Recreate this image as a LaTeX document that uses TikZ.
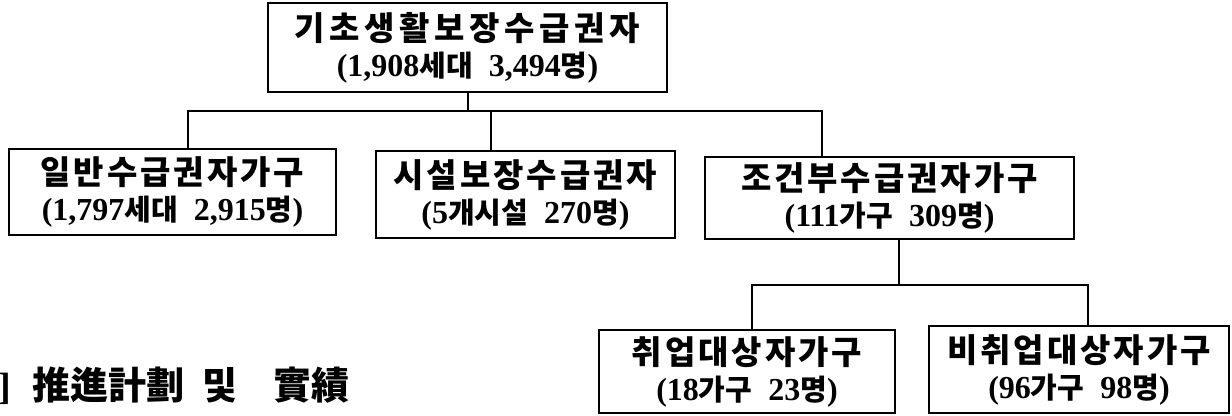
\documentclass[tikz,border=0pt]{standalone}
\usepackage{fontspec}
\setmainfont{Liberation Serif}
\newfontfamily\kr{Noto Sans CJK KR}
\newcommand{\hd}[1]{{\kr\fontsize{16.5}{18}\selectfont\addfontfeature{LetterSpace=9}#1}}
\newcommand{\kn}[1]{{\kr\fontsize{14.5}{18}\selectfont #1}}

\begin{document}
\begin{tikzpicture}[
  x=0.5pt, y=-0.5pt,
  block/.style={rectangle, draw, line width=1.2pt, inner sep=0pt, align=center, font=\bfseries\fontsize{16}{18}\selectfont},
  link/.style={line width=1pt},
]
\useasboundingbox (0,0) rectangle (1232,416);

\node[block, minimum width=199.5pt, minimum height=44.5pt] (top) at (467.5,47.5) {\hd{\addfontfeature{LetterSpace=14}기초생활보장수급권자}\\(1,908\kn{세대}~~3,494\kn{명})};
\node[block, minimum width=163.5pt, minimum height=43pt] (general) at (172.5,192) {\hd{일반수급권자가구}\\(1,797\kn{세대}~~2,915\kn{명})};
\node[block, minimum width=149.5pt, minimum height=43.5pt] (facility) at (525.5,194.5) {\hd{시설보장수급권자}\\(5\kn{개시설}~~270\kn{명})};
\node[block, minimum width=184.5pt, minimum height=41pt] (conditional) at (889.5,198) {\hd{조건부수급권자가구}\\(111\kn{가구}~~309\kn{명})};
\node[block, minimum width=148pt, minimum height=41.5pt] (employ) at (747,371.5) {\hd{취업대상자가구}\\(18\kn{가구}~~23\kn{명})};
\node[block, minimum width=150pt, minimum height=43.5pt] (nonemploy) at (1079,369.5) {\hd{비취업대상자가구}\\(96\kn{가구}~~98\kn{명})};

\node[anchor=west, inner sep=0pt, font=\bfseries\fontsize{19}{21}\selectfont] (plan) at (-2,386) {]\hspace{10.5pt}{\kr 推進計劃}\hspace{9pt}{\kr 및}\hspace{18pt}{\kr 實績}};

% first level
\coordinate (busL) at (188,111);
\coordinate (busM) at (491,111);
\coordinate (busR) at (822,111);
\draw[link] (top.south) -- (top.south |- busL);
\draw[link] (busL |- general.north) -- (busL) -- (busR) -- (busR |- conditional.north);
\draw[link] (busM) -- (busM |- facility.north);

% second level
\coordinate (subL) at (752,285);
\coordinate (subM) at (899,285);
\coordinate (subR) at (1088,285);
\draw[link] (subM |- conditional.south) -- (subM);
\draw[link] (subL |- employ.north) -- (subL) -- (subR) -- (subR |- nonemploy.north);
\end{tikzpicture}
\end{document}
